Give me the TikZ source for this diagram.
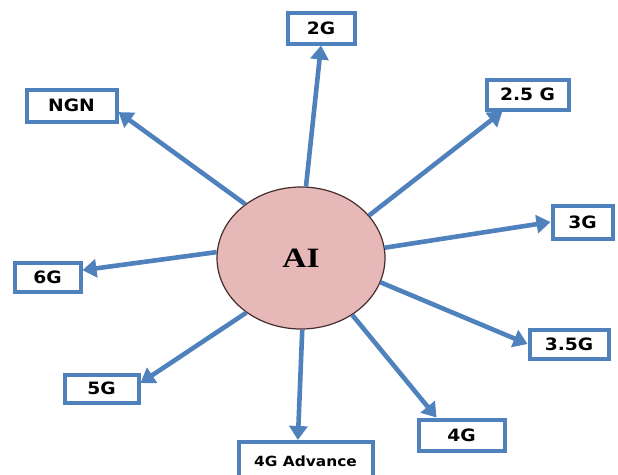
\documentclass[tikz,border=0pt]{standalone}
\usepackage{fontspec}
\newfontfamily\genfont[FakeStretch=1.1]{DejaVu Sans}
\newfontfamily\hubfont[FakeStretch=1.2]{Liberation Serif}
\usetikzlibrary{arrows.meta, shapes.geometric}
\definecolor{linkblue}{RGB}{79,129,189}
\definecolor{hubpink}{RGB}{230,185,184}
\definecolor{hubedge}{RGB}{70,45,45}
\tikzset{
  hub/.style  = {draw=hubedge, ellipse, fill=hubpink, line width=1.2pt,
                 inner sep=0pt, minimum width=168pt, minimum height=142pt,
                 font=\hubfont\bfseries\fontsize{28}{31}\selectfont},
  gen/.style  = {draw=linkblue, rectangle, line width=4pt, fill=white,
                 inner sep=0pt, align=center,
                 font=\genfont\bfseries\fontsize{17}{20}\selectfont},
  arr/.style  = {draw=linkblue, line width=4.6pt,
                 -{Triangle[length=14pt, width=18pt]}}
}

\begin{document}
\begin{tikzpicture}[x=1pt, y=-1pt]
  \useasboundingbox (0,0) rectangle (618,474);

  % ── Central hub ───────────────────────────────────────────────────────────
  \node[hub] (Ai) at (301,258) {AI};

  % ── Generations around the hub ────────────────────────────────────────────
  \node[gen, minimum width=67pt, minimum height=31pt]  (Gen2)  at (321,28)      {2G};
  \node[gen, minimum width=82pt, minimum height=30pt]  (Gen25) at (527.5,94.5)  {2.5 G};
  \node[gen, minimum width=90pt, minimum height=32pt]  (Ngn)   at (71.5,105.5)  {NGN};
  \node[gen, minimum width=60pt, minimum height=33pt]  (Gen3)  at (582.5,222)   {3G};
  \node[gen, minimum width=66pt, minimum height=29pt]  (Gen6)  at (47.5,277)    {6G};
  \node[gen, minimum width=79pt, minimum height=29pt]  (Gen35) at (569,344)     {3.5G};
  \node[gen, minimum width=74pt, minimum height=28pt]  (Gen5)  at (101.5,388.5) {5G};
  \node[gen, minimum width=86pt, minimum height=31pt]  (Gen4)  at (461.5,435)   {4G};
  \node[gen, minimum width=134pt, minimum height=38pt,
        font=\genfont\bfseries\fontsize{14}{17}\selectfont]
                                                       (Gen4A) at (305.5,461)   {4G Advance};

  % ── Links from the hub ────────────────────────────────────────────────────
  \draw[arr] (Ai.86)   -- (Gen2.south);
  \draw[arr] (Ai.32)   -- (Gen25.-146);
  \draw[arr] (Ai.136)  -- (Ngn.-8);
  \draw[arr] (Ai.7)    -- (Gen3.west);
  \draw[arr] (Ai.176)  -- (Gen6.11);
  \draw[arr] (Ai.-17)  -- (Gen35.west);
  \draw[arr] (Ai.-135) -- (Gen5.8);
  \draw[arr] (Ai.-48)  -- (Gen4.145);
  \draw[arr] (Ai.-89)  -- (Gen4A.110);

\end{tikzpicture}
\end{document}
